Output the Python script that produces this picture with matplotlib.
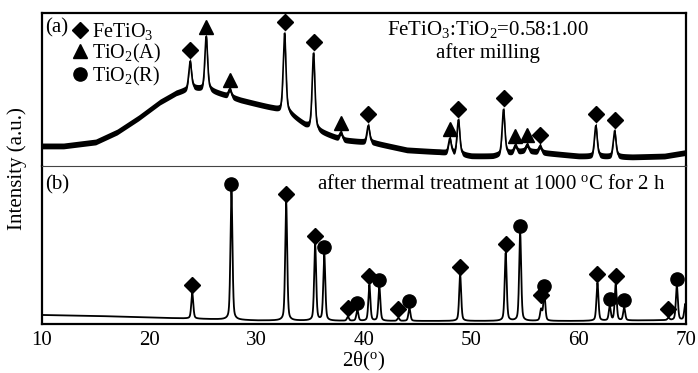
import numpy as np
import matplotlib
matplotlib.use("Agg")
import matplotlib.pyplot as plt
from matplotlib.lines import Line2D
from matplotlib.transforms import offset_copy

plt.rcParams['font.family'] = ['Liberation Serif', 'DejaVu Serif']
plt.rcParams['mathtext.fontset'] = 'custom'
plt.rcParams['mathtext.rm'] = 'Liberation Serif'
plt.rcParams['mathtext.it'] = 'Liberation Serif:italic'
plt.rcParams['font.size'] = 15

# (a) after milling - amorphous hump (background) + peaks
a_bg_x = [10, 12, 15, 17, 19, 21, 22.5, 24, 25.5, 27, 28.5, 30, 31.5, 33, 34.5, 36, 38, 41, 44, 47, 50, 52, 55, 57, 60, 65, 68, 70]
a_bg_y = [131, 131, 157, 222, 314, 418, 477, 510, 497, 464, 431, 405, 379, 346, 268, 222, 170, 150, 105, 92, 65, 65, 100, 85, 65, 59, 65, 88]
a_pos = [23.8, 25.3, 27.5, 32.6, 35.3, 37.85, 40.4, 48.0, 48.8, 53.0, 54.1, 55.2, 56.4, 61.6, 63.35]
a_amp = [178, 348, 50, 512, 493, 45, 110, 95, 225, 292, 45, 40, 40, 200, 168]
a_phase = ['F', 'A', 'A', 'F', 'F', 'A', 'F', 'A', 'F', 'F', 'A', 'A', 'F', 'F', 'F']

# (b) after thermal treatment at 1000 C
b_bg_x = [10, 15, 20, 25, 30, 40, 50, 60, 70]
b_bg_y = [57, 51, 41, 32, 22, 19, 19, 19, 25]
b_pos = [24.0, 27.65, 32.75, 35.45, 36.3, 38.5, 39.38, 40.5, 41.43, 43.2, 44.23, 48.96,
         53.2, 54.55, 56.5, 56.8, 61.75, 62.9, 63.45, 64.24, 68.37, 69.15, 69.93]
b_amp = [161, 818, 750, 480, 417, 25, 70, 228, 215, 19, 82, 291,
         430, 557, 70, 175, 240, 89, 228, 82, 15, 215, 101]
b_phase = ['F', 'R', 'F', 'F', 'R', 'F', 'R', 'F', 'R', 'F', 'R', 'F',
           'F', 'R', 'F', 'R', 'F', 'R', 'F', 'R', 'F', 'R', '']

markers = {'F': ('D', 8.5, 6.0), 'A': ('^', 9.5, 4.5), 'R': ('o', 9.5, 5.0)}


def pattern(x, bg_x, bg_y, pos, amp, fwhm):
    y = np.interp(x, bg_x, bg_y).astype(float)
    for p, a in zip(pos, amp):
        u = (x - p) / fwhm
        y += a * (0.6 * np.exp(-4 * np.log(2) * u ** 2) + 0.4 / (1 + 4 * u ** 2))
    return y


x = np.arange(10, 70.001, 0.01)
ya = pattern(x, a_bg_x, a_bg_y, a_pos, a_amp, 0.3)
yb = pattern(x, b_bg_x, b_bg_y, b_pos, b_amp, 0.22)
band = 19

fig = plt.figure(figsize=(6.98, 3.73), dpi=100)
ax1 = fig.add_axes([0.0602, 0.555, 0.9226, 0.41])
ax2 = fig.add_axes([0.0602, 0.1314, 0.9226, 0.4236])

ax1.fill_between(x, ya - band, ya + band, color='black', lw=0)
ax1.plot(x, ya, color='black', lw=1.2)
ax2.plot(x, yb, color='black', lw=1.3)


def put_markers(ax, pos, phase, xs, ys, extra):
    for p, ph in zip(pos, phase):
        if ph == '':
            continue
        m, ms, off = markers[ph]
        win = (xs > p - 0.2) & (xs < p + 0.2)
        top = ys[win].max() + extra
        tr = offset_copy(ax.transData, fig=fig, x=0, y=off, units='points')
        ax.plot([p], [top], marker=m, ms=ms, color='black', ls='none',
                transform=tr, clip_on=False)


put_markers(ax1, a_pos, a_phase, x, ya, band)
put_markers(ax2, b_pos, b_phase, x, yb, 0)

for ax in (ax1, ax2):
    ax.set_xlim(10, 70)
    ax.set_ylim(0, 1000)
    ax.set_yticks([])
    for s in ax.spines.values():
        s.set_linewidth(1.6)
ax1.set_xticks([])
ax1.spines['bottom'].set_visible(False)
ax2.spines['top'].set_linewidth(0.8)
ax2.spines['top'].set_color('#444444')
ax2.set_xticks([10, 20, 30, 40, 50, 60, 70])
ax2.tick_params(axis='x', length=0, pad=5)
ax2.set_xlabel('2θ($^{\\rm o}$)', labelpad=0)

handles = [Line2D([], [], marker=markers[k][0], ms=markers[k][1], color='black', ls='none') for k in 'FAR']
ax1.legend(handles, ['FeTiO$_3$', 'TiO$_2$(A)', 'TiO$_2$(R)'], loc='upper left',
           bbox_to_anchor=(0.037, 0.975), frameon=False, handlelength=1.0, fontsize=14.5,
           handletextpad=0.1, labelspacing=0.0, borderpad=0.1, borderaxespad=0.1)
ax1.text(0.005, 0.9, '(a)', transform=ax1.transAxes, ha='left', va='center')
ax1.text(0.692, 0.895, 'FeTiO$_3$:TiO$_2$=0.58:1.00', transform=ax1.transAxes, ha='center', va='center')
ax1.text(0.692, 0.739, 'after milling', transform=ax1.transAxes, ha='center', va='center')
ax2.text(0.005, 0.88, '(b)', transform=ax2.transAxes, ha='left', va='center')
ax2.text(0.427, 0.88, 'after thermal treatment at 1000 $^{\\rm o}$C for 2 h', transform=ax2.transAxes,
         ha='left', va='center')

fig.text(0.024, 0.548, 'Intensity (a.u.)', rotation=90, ha='center', va='center')

fig.savefig('out.png', dpi=100)
